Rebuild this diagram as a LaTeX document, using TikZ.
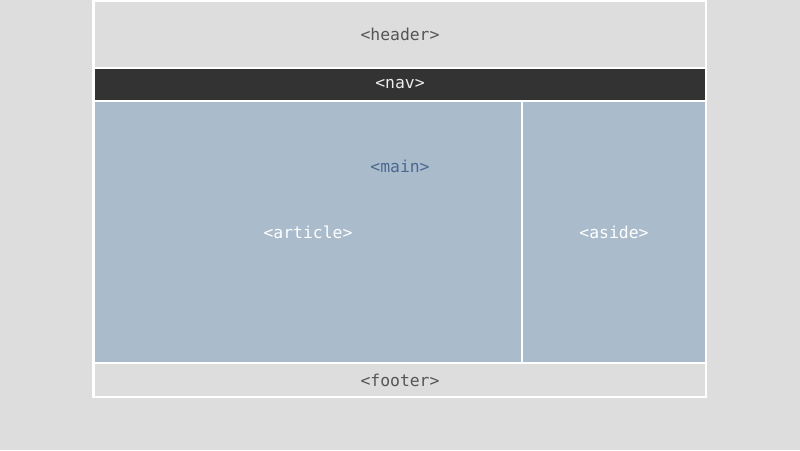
\documentclass[tikz,border=0pt]{standalone}
\usepackage{fontspec}
\setmonofont{DejaVu Sans Mono}
\usetikzlibrary{positioning}
\definecolor{pagegray}{HTML}{DDDDDD}
\definecolor{navdark}{HTML}{333333}
\definecolor{mainblue}{HTML}{AABBCC}
\definecolor{maintext}{HTML}{4A6890}
\definecolor{headtext}{HTML}{555555}
\tikzset{
	tag/.style={font=\ttfamily\fontsize{16.4}{20}\selectfont, inner sep=0pt}
}

\begin{document}
\begin{tikzpicture}[x=1pt, y=-1pt]
			%%%%% START %%%%%
			
			\useasboundingbox (0, 0) rectangle (800, 450);
			\fill[pagegray] (0, 0) rectangle (800, 450);
			
			\fill[white] (92, 0) rectangle (707, 398);
			
			\fill[pagegray] (95, 2) rectangle (705, 67);
			\node[tag, color=headtext] (header) at (400, 34) {<header>};
			
			\fill[navdark] (95, 69) rectangle (705, 100);
			\node[tag, color=black!7] (nav) at (400, 84) {<nav>};
			
			\fill[mainblue] (95, 102) rectangle (521, 362);
			\fill[mainblue] (523, 102) rectangle (705, 362);
			\node[tag, color=maintext] (main) at (400, 166) {<main>};
			\node[tag, color=white] (article) at (308, 232) {<article>};
			\node[tag, color=white] (aside) at (614, 232) {<aside>};
			
			\fill[pagegray] (95, 364) rectangle (705, 396);
			\node[tag, color=headtext] (footer) at (400, 380) {<footer>};
			
			%%%%% END %%%%%
		\end{tikzpicture}
\end{document}
